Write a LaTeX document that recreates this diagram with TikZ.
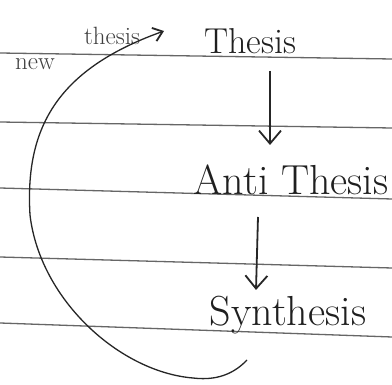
\documentclass[tikz,border=0pt]{standalone}
\usetikzlibrary{arrows.meta}
\begin{document}
\begin{tikzpicture}[x=1pt,y=-1pt,
  ink/.style={draw=black!85},
  ruled/.style={draw=black!60, line width=1.3pt},
  word/.style={inner sep=0pt, anchor=base, text=black!88},
  small/.style={inner sep=0pt, text=black!75, font=\fontsize{25}{27}\selectfont},
  arr/.style={ink, line width=1.8pt, -{Straight Barb[length=13pt,width=22pt,line width=1.8pt]}},
  loop/.style={ink, line width=1.3pt, -{Straight Barb[length=9pt,width=14pt,line width=1.8pt]}}]
\useasboundingbox (0,0) rectangle (392,385);
\fill[white] (0,0) rectangle (392,385);
% ruled paper lines
\draw[ruled] (0,53) -- (392,59);
\draw[ruled] (0,122) -- (392,128);
\draw[ruled] (0,188) -- (392,199);
\draw[ruled] (0,257) -- (392,268);
\draw[ruled] (0,323) -- (392,337);
% words
\node[word, font=\fontsize{36}{38}\selectfont] (thesis) at (250,54) {Thesis};
\node[word, font=\fontsize{42}{44}\selectfont] (anti) at (291,195) {Anti Thesis};
\node[word, font=\fontsize{42}{44}\selectfont] (synth) at (288,326) {Synthesis};
\node[small] (newword) at (35,64) {new};
\node[small] (thesisword) at (112,36) {thesis};
% arrows
\draw[arr] ([xshift=20pt,yshift=-17pt]thesis.base) -- ([xshift=-21pt,yshift=50pt]anti.base);
\draw[arr] ([xshift=-33pt,yshift=-22pt]anti.base) -- ([xshift=-32pt,yshift=36pt]synth.base);
\draw[loop] ([xshift=-41pt,yshift=-34pt]synth.base)
  .. controls (230,378) and (210,380) .. (193,378)
  .. controls (120,372) and (40,300) .. (30,215)
  .. controls (25,130) and (55,70) .. ([xshift=-86pt,yshift=23pt]thesis.base);
\end{tikzpicture}
\end{document}
